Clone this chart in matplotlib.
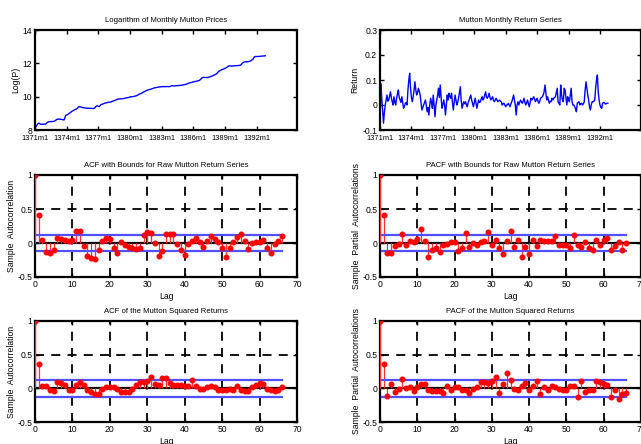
import matplotlib
matplotlib.use('Agg')
import matplotlib.pyplot as plt
from matplotlib import font_manager
import numpy as np

# ---------------- data ----------------
log_price = [
    8.14, 8.20, 8.28, 8.36, 8.40, 8.40, 8.35, 8.34, 8.35, 8.34,
    8.35, 8.36, 8.35, 8.40, 8.45, 8.48, 8.50, 8.50, 8.51, 8.50,
    8.51, 8.52, 8.52, 8.56, 8.60, 8.64, 8.65, 8.66, 8.65, 8.64,
    8.64, 8.62, 8.62, 8.60, 8.75, 8.88, 8.90, 8.92, 8.96, 9.00,
    9.04, 9.08, 9.12, 9.15, 9.18, 9.21, 9.24, 9.25, 9.30, 9.36,
    9.40, 9.40, 9.38, 9.36, 9.35, 9.34, 9.33, 9.32, 9.31, 9.31,
    9.30, 9.31, 9.30, 9.30, 9.30, 9.29, 9.29, 9.30, 9.32, 9.40,
    9.44, 9.45, 9.42, 9.40, 9.46, 9.52, 9.54, 9.56, 9.58, 9.60,
    9.62, 9.63, 9.64, 9.66, 9.67, 9.67, 9.68, 9.70, 9.72, 9.74,
    9.76, 9.78, 9.80, 9.83, 9.85, 9.86, 9.86, 9.87, 9.87, 9.88,
    9.88, 9.89, 9.90, 9.91, 9.93, 9.94, 9.95, 9.96, 9.98, 9.99,
    10.00, 10.00, 10.01, 10.02, 10.04, 10.05, 10.07, 10.10, 10.13, 10.16,
    10.18, 10.20, 10.23, 10.26, 10.29, 10.32, 10.35, 10.37, 10.39, 10.41,
    10.43, 10.44, 10.45, 10.47, 10.49, 10.51, 10.53, 10.54, 10.55, 10.56,
    10.57, 10.58, 10.59, 10.59, 10.60, 10.60, 10.60, 10.61, 10.60, 10.60,
    10.61, 10.61, 10.60, 10.60, 10.62, 10.65, 10.66, 10.65, 10.64, 10.65,
    10.65, 10.66, 10.66, 10.67, 10.67, 10.68, 10.68, 10.69, 10.70, 10.71,
    10.72, 10.73, 10.75, 10.77, 10.79, 10.81, 10.83, 10.84, 10.85, 10.87,
    10.88, 10.90, 10.91, 10.92, 10.93, 10.94, 10.96, 10.98, 11.02, 11.08,
    11.13, 11.15, 11.16, 11.15, 11.15, 11.15, 11.15, 11.15, 11.17, 11.19,
    11.21, 11.23, 11.25, 11.28, 11.30, 11.33, 11.35, 11.40, 11.46, 11.52,
    11.55, 11.58, 11.61, 11.63, 11.65, 11.67, 11.70, 11.72, 11.75, 11.79,
    11.83, 11.85, 11.85, 11.84, 11.83, 11.84, 11.85, 11.85, 11.86, 11.86,
    11.86, 11.87, 11.87, 11.88, 11.90, 11.96, 12.02, 12.06, 12.08, 12.09,
    12.09, 12.09, 12.10, 12.11, 12.12, 12.14, 12.18, 12.22, 12.25, 12.35,
    12.40, 12.41, 12.41, 12.41, 12.41, 12.42, 12.42, 12.43, 12.43, 12.44,
    12.44, 12.45, 12.45,
]

returns = [
    -0.090, 0.085, 0.027, -0.020, -0.073, -0.030, 0.000, 0.020, 0.040, 0.015,
    0.020, 0.035, 0.053, 0.030, 0.013, 0.000, 0.033, 0.010, 0.000, 0.027,
    0.045, 0.060, 0.030, 0.020, 0.010, 0.033, 0.010, -0.013, -0.005, 0.007,
    0.010, 0.000, 0.060, 0.100, 0.127, 0.067, 0.030, 0.013, 0.033, 0.060,
    0.093, 0.060, 0.040, 0.050, 0.067, 0.055, 0.040, 0.010, -0.020, -0.010,
    0.000, 0.010, 0.020, 0.000, -0.027, -0.010, -0.040, 0.000, 0.027, 0.010,
    -0.013, 0.040, 0.000, -0.047, 0.000, 0.020, 0.040, 0.067, 0.030, 0.080,
    0.030, -0.013, 0.000, 0.020, 0.000, -0.040, 0.000, 0.040, 0.020, 0.047,
    0.035, 0.027, 0.047, 0.010, -0.020, 0.010, 0.040, 0.020, 0.000, 0.010,
    0.027, 0.050, 0.073, 0.020, -0.013, 0.000, 0.013, 0.005, 0.013, 0.000,
    -0.007, 0.010, 0.020, 0.030, 0.040, 0.020, 0.007, -0.007, 0.010, 0.027,
    0.007, -0.013, 0.005, 0.020, 0.010, 0.013, 0.025, 0.033, 0.020, 0.027,
    0.040, 0.053, 0.030, 0.027, 0.035, 0.047, 0.030, 0.020, 0.027, 0.033,
    0.020, 0.013, 0.020, 0.027, 0.020, 0.013, 0.017, 0.020, 0.015, 0.013,
    0.000, 0.005, 0.007, 0.000, -0.007, 0.000, 0.000, 0.007, 0.000, -0.007,
    0.005, 0.013, 0.025, 0.040, 0.020, 0.000, -0.040, 0.000, 0.013, 0.000,
    0.010, 0.020, 0.013, 0.007, 0.015, 0.027, 0.010, 0.000, 0.010, 0.020,
    0.005, -0.007, 0.010, 0.027, 0.020, 0.025, 0.033, 0.025, 0.013, 0.020,
    0.027, 0.015, 0.007, 0.015, 0.027, 0.030, 0.033, 0.040, 0.053, 0.080,
    0.050, 0.020, 0.033, 0.020, 0.007, 0.015, 0.013, 0.027, 0.020, 0.027,
    0.030, 0.033, 0.050, 0.067, 0.013, 0.007, 0.000, 0.080, 0.040, 0.020,
    0.013, 0.067, 0.060, 0.030, 0.000, 0.033, 0.020, 0.013, 0.040, 0.067,
    0.013, 0.000, 0.000, -0.007, -0.015, -0.027, 0.007, 0.010, 0.013, 0.000,
    0.005, 0.007, 0.000, 0.005, 0.013, 0.060, 0.093, 0.067, 0.040, 0.020,
    -0.007, -0.020, 0.000, 0.013, 0.013, 0.015, 0.020, 0.067, 0.100, 0.120,
    0.053, 0.020, 0.000, -0.010, -0.013, 0.007, 0.010, 0.010, 0.004, 0.005,
    0.007, 0.007,
]

date_ticks = [0, 36, 72, 108, 144, 180, 216, 252]
date_labels = ['1371m1', '1374m1', '1377m1', '1380m1', '1383m1', '1386m1', '1389m1', '1392m1']

acf_raw = [1.0, 0.41, 0.05, -0.13, -0.15, -0.10, 0.075, 0.06, 0.05, 0.025,
           0.045, 0.18, 0.17, -0.05, -0.19, -0.22, -0.23, -0.10, 0.03, 0.07,
           0.055, -0.08, -0.15, 0.01, -0.03, -0.06, -0.08, -0.09, -0.07, 0.12,
           0.16, 0.15, 0.0, -0.19, -0.12, 0.125, 0.13, 0.13, -0.02, -0.10,
           -0.17, -0.02, 0.03, 0.075, 0.01, -0.06, 0.025, 0.105, 0.06, 0.02,
           -0.08, -0.21, -0.08, 0.02, 0.095, 0.13, 0.03, -0.09, -0.005, 0.01,
           0.02, 0.04, -0.08, -0.14, -0.01, 0.03, 0.11]

pacf_raw = [1.0, 0.41, -0.15, -0.14, -0.05, -0.02, 0.13, -0.035, 0.025, 0.015,
            0.065, 0.20, 0.025, -0.20, -0.11, -0.075, -0.135, -0.03, -0.02, 0.015,
            0.02, -0.12, -0.075, 0.145, -0.06, 0.0, -0.025, 0.01, 0.025, 0.16,
            -0.03, 0.05, -0.075, -0.165, 0.035, 0.18, -0.06, 0.05, -0.20, -0.055,
            -0.165, 0.045, -0.05, 0.045, 0.035, 0.035, 0.03, 0.105, -0.03, -0.035,
            -0.03, -0.07, 0.115, -0.025, -0.065, 0.01, -0.07, -0.10, 0.05, -0.03,
            0.05, 0.07, -0.11, -0.04, 0.01, -0.10, 0.0]

acf_sq = [1.0, 0.365, 0.04, 0.03, -0.03, -0.04, 0.095, 0.08, 0.045, -0.025,
          -0.02, 0.055, 0.10, 0.055, -0.02, -0.05, -0.08, -0.085, -0.015, 0.025,
          0.025, 0.015, -0.015, -0.05, -0.06, -0.055, -0.015, 0.055, 0.09, 0.10,
          0.11, 0.165, 0.07, 0.045, 0.155, 0.155, 0.08, 0.045, 0.045, 0.055,
          0.04, 0.04, 0.12, 0.035, -0.015, -0.015, 0.025, 0.035, 0.02, -0.02,
          -0.025, -0.025, -0.01, -0.02, 0.03, -0.02, -0.04, -0.035, 0.025, 0.055,
          0.085, 0.06, -0.01, -0.02, -0.045, -0.02, 0.025]

pacf_sq = [1.0, 0.365, -0.11, 0.065, -0.05, -0.015, 0.145, 0.0, 0.02, -0.04,
           0.025, 0.07, 0.06, -0.025, -0.035, -0.04, -0.04, -0.075, 0.035, -0.02,
           0.015, 0.025, -0.025, -0.025, -0.075, -0.015, 0.015, 0.09, 0.09, 0.075,
           0.115, 0.175, -0.065, 0.06, 0.23, 0.125, -0.015, -0.025, 0.035, 0.085,
           -0.025, 0.04, 0.11, -0.08, 0.02, -0.025, 0.03, 0.015, -0.015, -0.025,
           -0.02, 0.04, 0.035, -0.135, 0.11, -0.05, -0.025, -0.03, 0.11, 0.10,
           0.065, 0.05, -0.135, -0.025, -0.16, -0.09, -0.065]

bound_raw = 0.124
bound_sq = 0.123

# ---------------- style ----------------
avail = {f.name for f in font_manager.fontManager.ttflist}
fam = [f for f in ['Liberation Sans Narrow', 'Liberation Sans', 'DejaVu Sans'] if f in avail]
plt.rcParams['font.family'] = fam
plt.rcParams['font.size'] = 6.2

W, H = 641, 444
fig = plt.figure(figsize=(W / 100, H / 100), dpi=100)


def ax_at(x0, x1, y0, y1):
    return fig.add_axes([x0 / W, 1 - y1 / H, (x1 - x0) / W, (y1 - y0) / H])


def style(ax, xls=6.2, xpad=2):
    for s in ax.spines.values():
        s.set_linewidth(1.6)
        s.set_color('black')
    ax.tick_params(direction='in', length=3, width=1.0, top=True, right=True,
                   labelsize=6.2, pad=2)
    ax.tick_params(axis='x', labelsize=xls, pad=xpad)


TITLE_FS = 5.6
LABEL_FS = 6.2
DATE_FS = 5.4

# --- Row 1 ---
ax1 = ax_at(35, 297, 30, 130)
ax1.plot(range(len(log_price)), log_price, color='#0000ff', lw=1.0)
ax1.set_xlim(0, 298)
ax1.set_ylim(8, 14)
ax1.set_yticks([8, 10, 12, 14])
ax1.set_xticks(date_ticks)
ax1.set_xticklabels(date_labels)
ax1.set_ylabel('Log(P)', fontsize=LABEL_FS, labelpad=2)
ax1.set_title('Logarithm of Monthly Mutton Prices', fontsize=TITLE_FS, pad=6)
style(ax1, DATE_FS, 3.5)

ax2 = ax_at(380, 641, 30, 130)
ax2.plot(range(len(returns)), returns, color='#0000ff', lw=1.0)
ax2.set_xlim(0, 299)
ax2.set_ylim(-0.1, 0.3)
ax2.set_yticks([-0.1, 0, 0.1, 0.2, 0.3])
ax2.set_yticklabels(['-0.1', '0', '0.1', '0.2', '0.3'])
ax2.set_xticks(date_ticks)
ax2.set_xticklabels(date_labels)
ax2.set_ylabel('Return', fontsize=LABEL_FS, labelpad=2)
ax2.set_title('Mutton Monthly Return Series', fontsize=TITLE_FS, pad=6)
style(ax2, DATE_FS, 3.5)


def corr_panel(ax, vals, bound, title, ylabel):
    lags = np.arange(len(vals))
    for gx in range(10, 70, 10):
        ax.axvline(gx, color='black', lw=1.3, ls=(0, (5, 4)), zorder=1)
    ax.axhline(0.5, color='black', lw=1.3, ls=(0, (5, 4)), zorder=1)
    ax.vlines(lags, 0, vals, color='#ff3030', lw=0.9, zorder=3)
    ax.axhline(0, color='black', lw=1.6, zorder=2)
    ax.plot([0.5, lags[-1]], [bound, bound], color='#5050ff', lw=1.6, zorder=4)
    ax.plot([0.5, lags[-1]], [-bound, -bound], color='#5050ff', lw=1.6, zorder=4)
    ax.plot(lags, vals, 'o', color='#ff0000', ms=3.3, mec='#ff0000', zorder=5)
    ax.set_xlim(0, 70)
    ax.set_ylim(-0.5, 1)
    ax.set_xticks(range(0, 71, 10))
    ax.set_yticks([-0.5, 0, 0.5, 1])
    ax.set_yticklabels(['-0.5', '0', '0.5', '1'])
    ax.set_xlabel('Lag', fontsize=LABEL_FS, labelpad=2)
    ax.set_ylabel(ylabel, fontsize=LABEL_FS, labelpad=1)
    ax.set_title(title, fontsize=TITLE_FS, pad=6)
    style(ax)


ax3 = ax_at(35, 297, 175, 277)
corr_panel(ax3, acf_raw, bound_raw, 'ACF with Bounds for Raw Mutton Return Series',
           'Sample  Autocorrelation')
ax4 = ax_at(380, 641, 175, 277)
corr_panel(ax4, pacf_raw, bound_raw, 'PACF with Bounds for Raw Mutton Return Series',
           'Sample  Partial  Autocorrelations')
ax5 = ax_at(35, 297, 321, 422)
corr_panel(ax5, acf_sq, bound_sq, 'ACF of the Mutton Squared Returns',
           'Sample  Autocorrelation')
ax6 = ax_at(380, 641, 321, 422)
corr_panel(ax6, pacf_sq, bound_sq, 'PACF of the Mutton Squared Returns',
           'Sample  Partial  Autocorrelations')

fig.savefig('out.png', dpi=100, facecolor='white')
